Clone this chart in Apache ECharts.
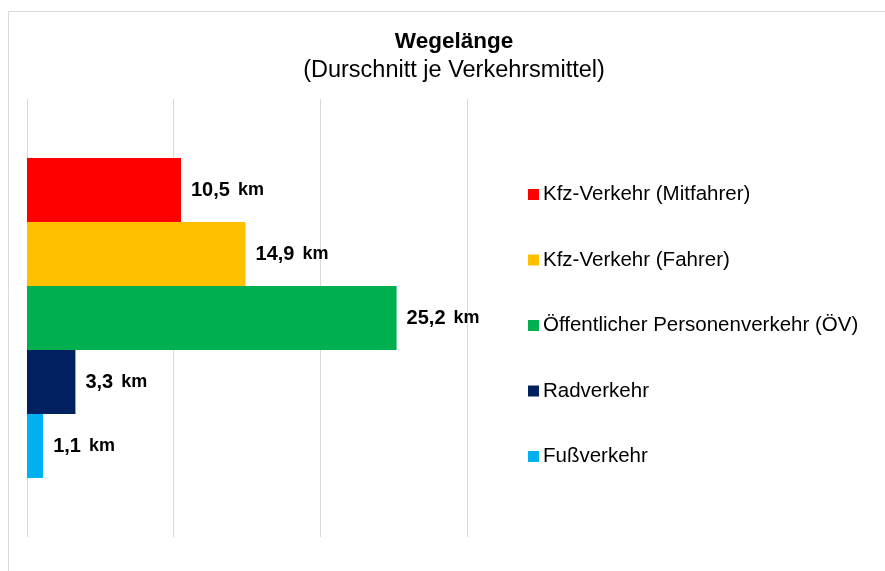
<!DOCTYPE html>
<html><head><meta charset="utf-8">
<script src="https://cdn.jsdelivr.net/npm/echarts@6/dist/echarts.min.js"></script>
<style>html,body{margin:0;padding:0;background:#fff}#c{width:885px;height:571px}</style>
</head><body><div id="c"></div>
<script>
const categories = ['Wegelänge'];
const seriesNames = ['Kfz-Verkehr (Mitfahrer)', 'Kfz-Verkehr (Fahrer)', 'Öffentlicher Personenverkehr (ÖV)', 'Radverkehr', 'Fußverkehr'];
const seriesValues = [10.5, 14.9, 25.2, 3.3, 1.1];
const seriesColors = ['#FF0000', '#FFC000', '#00B050', '#002060', '#00B0F0'];
const xTicks = [0, 10, 20, 30];

const FF = '"Liberation Sans", Arial, sans-serif';
const chart = echarts.init(document.getElementById('c'));
const fmt = v => String(v.toFixed(1)).replace('.', ',');
chart.setOption({
  animation: false,
  textStyle: { fontFamily: FF },
  graphic: [{
    type: 'rect', silent: true, z: -10,
    shape: { x: 8.5, y: 11.5, width: 1000, height: 1000 },
    style: { fill: 'none', stroke: '#d9d9d9', lineWidth: 1 }
  }],
  title: {
    text: 'Wegelänge',
    subtext: '(Durschnitt je Verkehrsmittel)',
    left: 449, textAlign: 'center', top: 25, itemGap: 6,
    textStyle: { fontSize: 22.5, fontWeight: 'bold', color: '#000', fontFamily: FF },
    subtextStyle: { fontSize: 23.5, color: '#000', fontFamily: FF }
  },
  legend: {
    orient: 'vertical', left: 523, top: 179,
    itemWidth: 11, itemHeight: 11, itemGap: 44.5, icon: 'rect',
    data: seriesNames,
    textStyle: { fontSize: 20.5, lineHeight: 20, color: '#000', padding: [0, 0, 0, -1], fontFamily: FF }
  },
  grid: { left: 27, right: 418, top: 99, bottom: 34, containLabel: false },
  xAxis: {
    type: 'value', min: xTicks[0], max: xTicks[xTicks.length - 1], interval: 10,
    axisLabel: { show: false }, axisLine: { show: false }, axisTick: { show: false },
    splitLine: { show: true, lineStyle: { color: '#d9d9d9', width: 1 } }
  },
  yAxis: {
    type: 'category', data: categories, inverse: true,
    axisLabel: { show: false }, axisTick: { show: false },
    axisLine: { show: false }
  },
  series: seriesNames.map((n, i) => ({
    name: n, type: 'bar', data: [seriesValues[i]],
    barWidth: 64, barGap: '0%',
    itemStyle: { color: seriesColors[i] },
    label: {
      show: true, position: 'right', distance: 10,
      formatter: p => '{n|' + fmt(p.value) + '}{u|km}',
      rich: {
        n: { fontSize: 20, fontWeight: 'bold', color: '#000', fontFamily: FF },
        u: { fontSize: 18, fontWeight: 'bold', color: '#000', fontFamily: FF, padding: [0, 0, 0, 8] }
      }
    }
  }))
});
</script></body></html>
